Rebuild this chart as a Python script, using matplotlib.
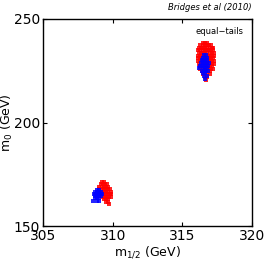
import matplotlib
matplotlib.use("Agg")
import matplotlib.pyplot as plt

# Upper cluster, red (equal-tails samples)
ur_rows_y = [238.5, 237.3, 236, 234.8, 233.5, 232.3, 231, 229.8, 228.5, 227.3, 226, 224.8, 223.5, 222, 220.5]
ur_rows_x = [
    [316.45, 316.6, 316.8],
    [316.3, 316.45, 316.6, 316.75, 316.9, 317.05],
    [316.2, 316.35, 316.5, 316.65, 316.8, 316.95, 317.1, 317.2],
    [316.15, 316.3, 316.45, 316.6, 316.75, 316.9, 317.05, 317.2],
    [316.2, 316.35, 316.5, 316.65, 316.8, 316.95, 317.1, 317.25],
    [316.1, 316.25, 316.4, 316.55, 316.7, 316.85, 317.0, 317.15, 317.3],
    [316.15, 316.3, 316.45, 316.6, 316.75, 316.9, 317.05, 317.2],
    [316.1, 316.25, 316.4, 316.55, 316.7, 316.85, 317.0, 317.15, 317.3],
    [316.2, 316.35, 316.5, 316.65, 316.8, 316.95, 317.1, 317.25],
    [316.25, 316.4, 316.55, 316.7, 316.85, 317.0, 317.15],
    [316.3, 316.45, 316.6, 316.75, 316.9, 317.05, 317.2],
    [316.4, 316.55, 316.7, 316.85, 317.0],
    [316.5, 316.65, 316.8, 316.95],
    [316.6, 316.75],
    [316.7],
]
# Upper cluster, blue
ub_rows_y = [232.5, 231.3, 230, 228.8, 227.5, 226.3, 225, 223.8, 222.5, 221]
ub_rows_x = [
    [316.55, 316.7],
    [316.45, 316.6, 316.75],
    [316.4, 316.5, 316.65, 316.8],
    [316.35, 316.5, 316.6, 316.75, 316.9],
    [316.25, 316.4, 316.55, 316.7, 316.85],
    [316.2, 316.45, 316.6, 316.75],
    [316.4, 316.55, 316.7, 316.85],
    [316.5, 316.65],
    [316.55, 316.75],
    [316.65],
]
# Lower cluster, red
lr_rows_y = [171.3, 170.2, 169, 167.8, 166.6, 165.4, 164.2, 163, 161.8, 160.5]
lr_rows_x = [
    [309.25, 309.4],
    [309.15, 309.3, 309.45, 309.6],
    [309.05, 309.2, 309.35, 309.5, 309.65],
    [309.05, 309.2, 309.35, 309.5, 309.65, 309.8],
    [309.1, 309.25, 309.4, 309.55, 309.7, 309.85],
    [309.2, 309.35, 309.5, 309.65, 309.8, 309.9],
    [309.3, 309.45, 309.6, 309.75, 309.85],
    [309.4, 309.55, 309.7],
    [309.55, 309.7],
    [309.75],
]
# Lower cluster, blue
lb_rows_y = [167.3, 166.3, 165.3, 164.3, 163.3, 162.3]
lb_rows_x = [
    [308.85, 309.0],
    [308.7, 308.85, 309.0, 309.15],
    [308.65, 308.8, 308.95, 309.1, 309.2],
    [308.7, 308.85, 309.0, 309.15],
    [308.75, 308.9, 309.05],
    [308.6, 308.85, 309.0],
]

def flatten(rows_x, rows_y):
    xs, ys = [], []
    for rx, ry in zip(rows_x, rows_y):
        for v in rx:
            xs.append(v)
            ys.append(ry)
    return xs, ys

fig = plt.figure(figsize=(2.66, 2.66), dpi=100)
ax = fig.add_axes([43/266, 1-226/266, 209/266, 207/266])

for rx, ry, c in [(ur_rows_x, ur_rows_y, "#ff0000"), (lr_rows_x, lr_rows_y, "#ff0000"),
                  (ub_rows_x, ub_rows_y, "#0000ff"), (lb_rows_x, lb_rows_y, "#0000ff")]:
    xs, ys = flatten(rx, ry)
    ax.scatter(xs, ys, s=5, marker="s", c=c, linewidths=0, alpha=0.85)

ax.set_xlim(305, 320)
ax.set_ylim(150, 250)
ax.set_xticks([305, 310, 315, 320])
ax.set_yticks([150, 200, 250])
ax.tick_params(direction="in", top=True, right=True, labelsize=10, length=3, pad=2)
for sp in ax.spines.values():
    sp.set_linewidth(1.0)
ax.set_xlabel("m$_{1/2}$ (GeV)", fontsize=9, labelpad=1)
ax.set_ylabel("m$_0$ (GeV)", fontsize=9)
ax.yaxis.set_label_coords(-0.135, 0.5)
ax.text(0.845, 0.94, "equal\u2212tails", transform=ax.transAxes, fontsize=6, ha="center", va="center")
fig.text(252/266, 1-8/266, "Bridges et al (2010)", fontsize=6, style="italic", ha="right", va="center")

fig.savefig("out.png", dpi=100)
